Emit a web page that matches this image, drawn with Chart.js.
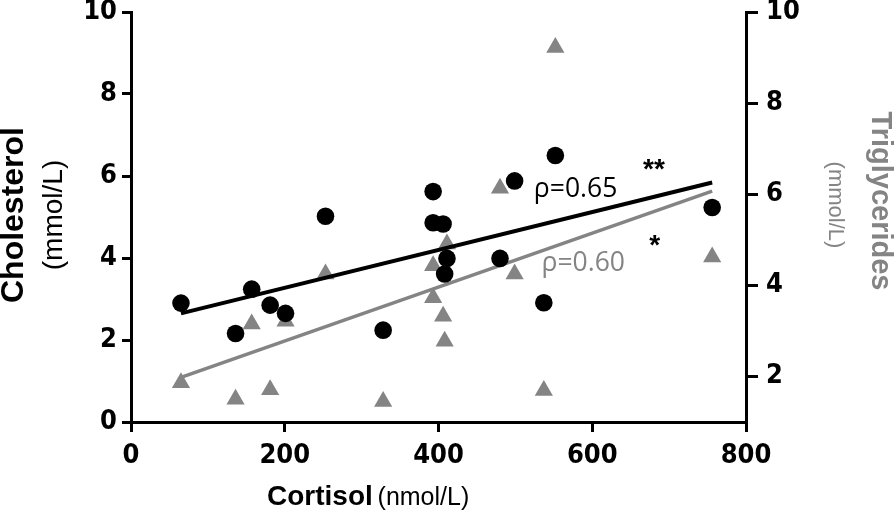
<!DOCTYPE html>
<html>
<head>
<meta charset="utf-8">
<script src="https://cdn.jsdelivr.net/npm/chart.js@4.4.1/dist/chart.umd.min.js"></script>
<style>
html, body { margin: 0; padding: 0; background: #fff; }
#wrap { width: 894px; height: 518px; }
</style>
</head>
<body>
<div id="wrap"><canvas id="chart" width="894" height="518"></canvas></div>
<script>
// 図から読み取った値
const cortisol = [65, 136, 157, 181, 201, 253, 328, 393, 393, 406, 408, 411, 480, 499, 537, 552, 756];
const cholesterol = [2.90, 2.16, 3.24, 2.85, 2.65, 5.02, 2.24, 5.62, 4.86, 4.83, 3.61, 3.99, 3.99, 5.88, 2.91, 6.50, 5.23];
const triglycerides = [1.86, 1.50, 3.15, 1.71, 3.21, 4.25, 1.45, 4.43, 3.73, 3.32, 2.77, 4.91, 6.13, 4.25, 1.69, 9.22, 4.62];

// 回帰直線の両端
const fitX = [65, 756];
const cholFit = [2.65, 5.84];
const trigFit = [1.98, 6.07];

// 目盛り
const xTicks = [0, 200, 400, 600, 800];
const leftTicks = [0, 2, 4, 6, 8, 10];
const rightTicks = [2, 4, 6, 8, 10];

const rhoLabels = ['ρ=0.65', 'ρ=0.60'];
const starLabels = ['**', '*'];

const GRAY = '#848484';
const TICK_FONT = { family: '"Liberation Sans Narrow", "DejaVu Sans Condensed", "Liberation Sans", Arial, sans-serif', size: 27, weight: 'bold' };
const SANS = '"Liberation Sans", Arial, sans-serif';

// 軸タイトルと注釈
const textPlugin = {
    id: 'texts',
    afterDraw(chart) {
        const ctx = chart.ctx;
        const sx = chart.scales.x;
        const sy = chart.scales.y;
        const sy2 = chart.scales.y2;
        ctx.save();
        ctx.textBaseline = 'alphabetic';

        // 相関係数
        ctx.textAlign = 'left';
        ctx.font = '26.5px "Open Sans", sans-serif';
        ctx.fillStyle = '#000';
        ctx.fillText(rhoLabels[0], sx.getPixelForValue(524), sy.getPixelForValue(5.49));
        ctx.fillStyle = GRAY;
        ctx.fillText(rhoLabels[1], sx.getPixelForValue(534), sy2.getPixelForValue(4.32));

        // 有意差
        ctx.fillStyle = '#000';
        ctx.font = 'bold 28px ' + SANS;
        ctx.fillText(starLabels[0], sx.getPixelForValue(666), sy.getPixelForValue(5.95));
        ctx.fillText(starLabels[1], sx.getPixelForValue(674), sy.getPixelForValue(4.10));

        // x軸タイトル
        ctx.font = 'bold 28px ' + SANS;
        ctx.fillText('Cortisol', 267, 505);
        const w = ctx.measureText('Cortisol ').width;
        ctx.font = '25px ' + SANS;
        ctx.fillText('(nmol/L)', 267 + w - 3, 505);

        // 左軸タイトル
        ctx.textAlign = 'center';
        ctx.save();
        ctx.translate(23, 215);
        ctx.rotate(-Math.PI / 2);
        ctx.font = 'bold 32px ' + SANS;
        ctx.fillText('Cholesterol', 0, 0);
        ctx.restore();
        ctx.save();
        ctx.translate(62, 215);
        ctx.rotate(-Math.PI / 2);
        ctx.font = '28px ' + SANS;
        ctx.fillText('(mmol/L)', 0, 0);
        ctx.restore();

        // 右軸タイトル
        ctx.fillStyle = GRAY;
        ctx.save();
        ctx.translate(872, 201);
        ctx.rotate(Math.PI / 2);
        ctx.font = 'bold 29px ' + SANS;
        ctx.fillText('Triglycerides', 0, 0);
        ctx.restore();
        ctx.save();
        ctx.translate(829, 205);
        ctx.rotate(Math.PI / 2);
        ctx.font = '22px ' + SANS;
        ctx.fillText('(mmol/L)', 0, 0);
        ctx.restore();

        ctx.restore();
    }
};

function axisStyle(tickLen, pad) {
    return {
        grid: { drawOnChartArea: false, drawTicks: true, tickLength: tickLen, color: '#000', lineWidth: 3 },
        border: { display: true, color: '#000', width: 3 },
        ticks: { font: TICK_FONT, color: '#000', padding: pad, maxRotation: 0, autoSkip: false }
    };
}

// ラベルのはみ出し分の余白を消す
function fixSize(s, prop, size) {
    s[prop] = size;
    s.paddingTop = 0;
    s.paddingBottom = 0;
    s.paddingLeft = 0;
    s.paddingRight = 0;
}

document.addEventListener('DOMContentLoaded', function() {
    new Chart(document.getElementById('chart'), {
        type: 'scatter',
        data: {
            datasets: [
                {
                    label: 'Cholesterol',
                    data: cortisol.map((c, i) => ({ x: c, y: cholesterol[i] })),
                    yAxisID: 'y',
                    pointStyle: 'circle',
                    pointRadius: 8.8,
                    backgroundColor: '#000',
                    borderWidth: 0,
                    order: 0
                },
                {
                    label: 'Cholesterol fit',
                    data: fitX.map((c, i) => ({ x: c, y: cholFit[i] })),
                    yAxisID: 'y',
                    showLine: true,
                    borderColor: '#000',
                    borderWidth: 4,
                    pointRadius: 0,
                    order: 1
                },
                {
                    label: 'Triglycerides fit',
                    data: fitX.map((c, i) => ({ x: c, y: trigFit[i] })),
                    yAxisID: 'y2',
                    showLine: true,
                    borderColor: GRAY,
                    borderWidth: 3.5,
                    pointRadius: 0,
                    order: 2
                },
                {
                    label: 'Triglycerides',
                    data: cortisol.map((c, i) => ({ x: c, y: triglycerides[i] })),
                    yAxisID: 'y2',
                    pointStyle: 'triangle',
                    pointRadius: 10.5,
                    backgroundColor: GRAY,
                    borderWidth: 0,
                    order: 3
                }
            ]
        },
        options: {
            responsive: false,
            animation: false,
            layout: { padding: { top: 12, left: 0, right: 0, bottom: 0 } },
            plugins: { legend: { display: false }, tooltip: { enabled: false } },
            scales: {
                x: Object.assign(axisStyle(10, 8), {
                    type: 'linear',
                    min: 0,
                    max: 800,
                    afterBuildTicks: s => { s.ticks = xTicks.map(v => ({ value: v })); },
                    afterFit: s => fixSize(s, 'height', 96)
                }),
                y: Object.assign(axisStyle(9, 5), {
                    position: 'left',
                    min: 0,
                    max: 10,
                    afterBuildTicks: s => { s.ticks = leftTicks.map(v => ({ value: v })); },
                    afterFit: s => fixSize(s, 'width', 131)
                }),
                y2: Object.assign(axisStyle(12, 8), {
                    position: 'right',
                    min: 1,
                    max: 10,
                    afterBuildTicks: s => { s.ticks = rightTicks.map(v => ({ value: v })); },
                    afterFit: s => fixSize(s, 'width', 148)
                })
            }
        },
        plugins: [textPlugin]
    });
});
</script>
</body>
</html>
